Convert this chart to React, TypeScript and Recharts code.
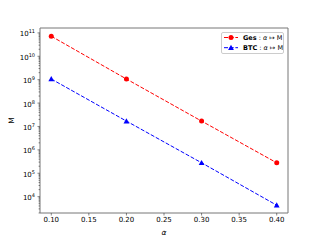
import React from 'react';
import { LineChart, Line, XAxis, YAxis, Legend, ReferenceLine } from 'recharts';

const alphas = [0.1, 0.2, 0.3, 0.4];
const gesM = [7.2e10, 1.07e9, 1.7e7, 2.8e5];
const btcM = [1.07e9, 1.7e7, 2.8e5, 4.3e3];
const xTicks = [0.1, 0.15, 0.2, 0.25, 0.3, 0.35, 0.4];
const yExponents = [4, 5, 6, 7, 8, 9, 10, 11];

const data = alphas.map((a, i) => ({ alpha: a, ges: gesM[i], btc: btcM[i] }));

// major decades plus the 2..9 minor ticks inside the visible range
const X_MIN = 0.085;
const X_MAX = 0.415;
const Y_MIN = 2000;
const Y_MAX = 1.62e11;
const yTicks: number[] = [];
for (let e = 3; e <= 11; e++) {
    for (let m = 1; m <= 9; m++) {
        const v = m * Math.pow(10, e);
        if (v >= Y_MIN && v <= Y_MAX) yTicks.push(v);
    }
}

const FONT = 'DejaVu Sans';
const FRAME = '#777';

const YTick = (props: any) => {
    const { x, y, payload } = props;
    const lg = Math.log10(payload.value);
    const exp = Math.round(lg);
    const major = Math.abs(lg - exp) < 1e-6 && yExponents.includes(exp);
    return (
        <g>
            <line x1={x} x2={x - (major ? 2.5 : 1.4)} y1={y} y2={y} stroke="#333" strokeWidth={0.6} />
            {major && (
                <text x={x - 5} y={y + 1.5} textAnchor="end" dominantBaseline="central" fontSize={7} fontFamily={FONT} fill="#000">
                    10<tspan dy={-3} fontSize={5}>{exp}</tspan>
                </text>
            )}
        </g>
    );
};

const Triangle = (props: any) => {
    const { cx, cy, index } = props;
    if (cx == null || cy == null) return <g key={index} />;
    const s = 2.9;
    return (
        <polygon
            key={index}
            points={`${cx},${cy - s} ${cx - s},${cy + s * 0.8} ${cx + s},${cy + s * 0.8}`}
            fill="#0000ff"
        />
    );
};

const LegendBox = () => (
    <svg width={63} height={22} style={{ display: 'block' }}>
        <rect x={0.5} y={0.5} width={62} height={21} rx={1.5} fill="#fff" fillOpacity={0.8} stroke="#cccccc" strokeWidth={1} />
        <line x1={3} x2={17} y1={5.5} y2={5.5} stroke="#ff0000" strokeWidth={1} strokeDasharray="4 1.7" />
        <circle cx={10} cy={5.5} r={2.5} fill="#ff0000" />
        <text x={22} y={5.5} dominantBaseline="central" fontSize={6.5} fontFamily={FONT}>
            <tspan fontWeight="bold">Ges</tspan>
            <tspan> : </tspan>
            <tspan fontStyle="italic">α</tspan>
            <tspan> ↦ M</tspan>
        </text>
        <line x1={3} x2={17} y1={15.7} y2={15.7} stroke="#0000ff" strokeWidth={1} strokeDasharray="4 1.7" />
        <polygon points="10,12.8 7.1,18 12.9,18" fill="#0000ff" />
        <text x={22} y={15.7} dominantBaseline="central" fontSize={6.5} fontFamily={FONT}>
            <tspan fontWeight="bold">BTC</tspan>
            <tspan> : </tspan>
            <tspan fontStyle="italic">α</tspan>
            <tspan> ↦ M</tspan>
        </text>
    </svg>
);

export default function App() {
    return (
        <div style={{ position: 'absolute', left: 0, top: 0, width: 320, height: 240, background: '#fff' }}>
            <LineChart width={320} height={240} data={data} margin={{ top: 28, right: 32, left: 0, bottom: 0 }}>
                <XAxis
                    dataKey="alpha"
                    type="number"
                    domain={[X_MIN, X_MAX]}
                    ticks={xTicks}
                    interval={0}
                    allowDataOverflow
                    tickFormatter={(v: number) => v.toFixed(2)}
                    height={27}
                    tickSize={2.5}
                    tickMargin={1.5}
                    stroke={FRAME}
                    tickLine={{ stroke: '#333', strokeWidth: 0.6 }}
                    tick={{ fontSize: 7, fill: '#000', fontFamily: FONT }}
                    label={{ value: 'α', position: 'insideBottom', offset: 5, fontSize: 7.5, fontStyle: 'italic', fill: '#000', fontFamily: FONT }}
                />
                <YAxis
                    scale="log"
                    type="number"
                    domain={[Y_MIN, Y_MAX]}
                    allowDataOverflow
                    ticks={yTicks}
                    interval={0}
                    width={40}
                    tickSize={0}
                    tickMargin={0}
                    tickLine={false}
                    stroke={FRAME}
                    tick={<YTick />}
                    label={{ value: 'M', angle: -90, position: 'insideLeft', offset: 11, fontSize: 7.5, fill: '#000', fontFamily: FONT, style: { textAnchor: 'middle' } }}
                />
                {/* top and right spines */}
                <ReferenceLine y={Y_MAX} stroke={FRAME} strokeWidth={1} />
                <ReferenceLine x={X_MAX} stroke={FRAME} strokeWidth={1} />
                <Line
                    dataKey="ges"
                    stroke="#ff0000"
                    strokeWidth={1}
                    strokeDasharray="4 1.7"
                    dot={{ r: 2.5, fill: '#ff0000', stroke: 'none' }}
                    isAnimationActive={false}
                />
                <Line
                    dataKey="btc"
                    stroke="#0000ff"
                    strokeWidth={1}
                    strokeDasharray="4 1.7"
                    dot={<Triangle />}
                    isAnimationActive={false}
                />
                <Legend
                    layout="vertical"
                    align="center"
                    verticalAlign="middle"
                    content={() => <LegendBox />}
                    wrapperStyle={{ left: 221, top: 32, width: 63, height: 22 }}
                />
            </LineChart>
        </div>
    );
}
